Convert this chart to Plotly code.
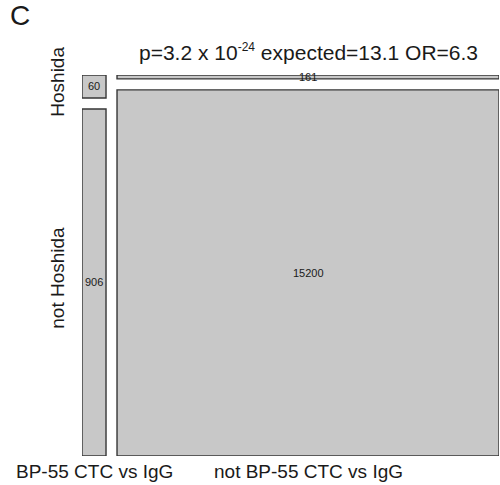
import plotly.graph_objects as go

# ---- data ----
col_labels = ["BP-55 CTC vs IgG", "not BP-55 CTC vs IgG"]
row_labels = ["Hoshida", "not Hoshida"]
# counts[col][row]
counts_bp55 = [60, 906]
counts_not_bp55 = [161, 15200]
title_text = "p=3.2 x 10<sup><span style='font-size:12px'>-24</span></sup> expected=13.1 OR=6.3"
panel_letter = "C"

counts = [counts_bp55, counts_not_bp55]

W, H = 500, 485
L, R, T, B = 82, 1, 75, 29
plot_w = W - L - R
plot_h = H - T - B
gx = 11 / plot_w
gy = 11 / plot_h

FILL = "#c8c8c8"
EDGE = "#363636"
FONT = "Liberation Sans, Arial, sans-serif"
TXT = "#1a1a1a"

fig = go.Figure()
shapes = []
annotations = []

col_tot = [sum(c) for c in counts]
N = sum(col_tot)
avail_x = 1 - gx * (len(counts) - 1)
x0 = 0.0
col_centers = []
row_centers = [[] for _ in row_labels]
for ci, col in enumerate(counts):
    w = avail_x * col_tot[ci] / N
    avail_y = 1 - gy * (len(col) - 1)
    ytop = 1.0
    for ri, v in enumerate(col):
        h = avail_y * v / col_tot[ci]
        y0 = ytop - h
        shapes.append(dict(type="rect", xref="x", yref="y", x0=x0, x1=x0 + w,
                           y0=y0, y1=ytop, fillcolor=FILL,
                           line=dict(color=EDGE, width=1.4), layer="below"))
        annotations.append(dict(x=x0 + w / 2, y=(y0 + ytop) / 2, xref="x", yref="y",
                                xanchor="center", yanchor="middle",
                                text=str(v), showarrow=False,
                                font=dict(size=11, color=TXT, family=FONT)))
        row_centers[ri].append((y0 + ytop) / 2)
        ytop = y0 - gy
    col_centers.append(x0 + w / 2)
    x0 += w + gx

# column labels
for ci, lab in enumerate(col_labels):
    annotations.append(dict(x=col_centers[ci], y=(456 - 471) / plot_h, xref="x", yref="paper",
                            xanchor="center", yanchor="middle",
                            text=lab, showarrow=False,
                            font=dict(size=19, color=TXT, family=FONT)))
# row labels
for ri, lab in enumerate(row_labels):
    yc = sum(row_centers[ri]) / len(row_centers[ri])
    annotations.append(dict(x=(58 - L) / plot_w, y=yc, xref="paper", yref="y",
                            xanchor="center", yanchor="middle",
                            text=lab, textangle=-90, showarrow=False,
                            font=dict(size=19, color=TXT, family=FONT)))
# title
annotations.append(dict(x=col_centers[-1], y=(456 - 52) / plot_h, xref="x", yref="paper",
                        xanchor="center", yanchor="middle",
                        text=title_text, showarrow=False,
                        font=dict(size=21, color=TXT, family=FONT)))
# panel letter
annotations.append(dict(x=(20 - L) / plot_w, y=(456 - 15) / plot_h, xref="paper", yref="paper",
                        xanchor="center", yanchor="middle",
                        text=panel_letter, showarrow=False,
                        font=dict(size=28, color=TXT, family=FONT)))

fig.update_layout(
    width=W, height=H,
    margin=dict(l=L, r=R, t=T, b=B),
    plot_bgcolor="white", paper_bgcolor="white",
    xaxis=dict(range=[0, 1], visible=False, fixedrange=True),
    yaxis=dict(range=[0, 1], visible=False, fixedrange=True),
    shapes=shapes, annotations=annotations,
    showlegend=False,
)
fig.write_html("out.html")
